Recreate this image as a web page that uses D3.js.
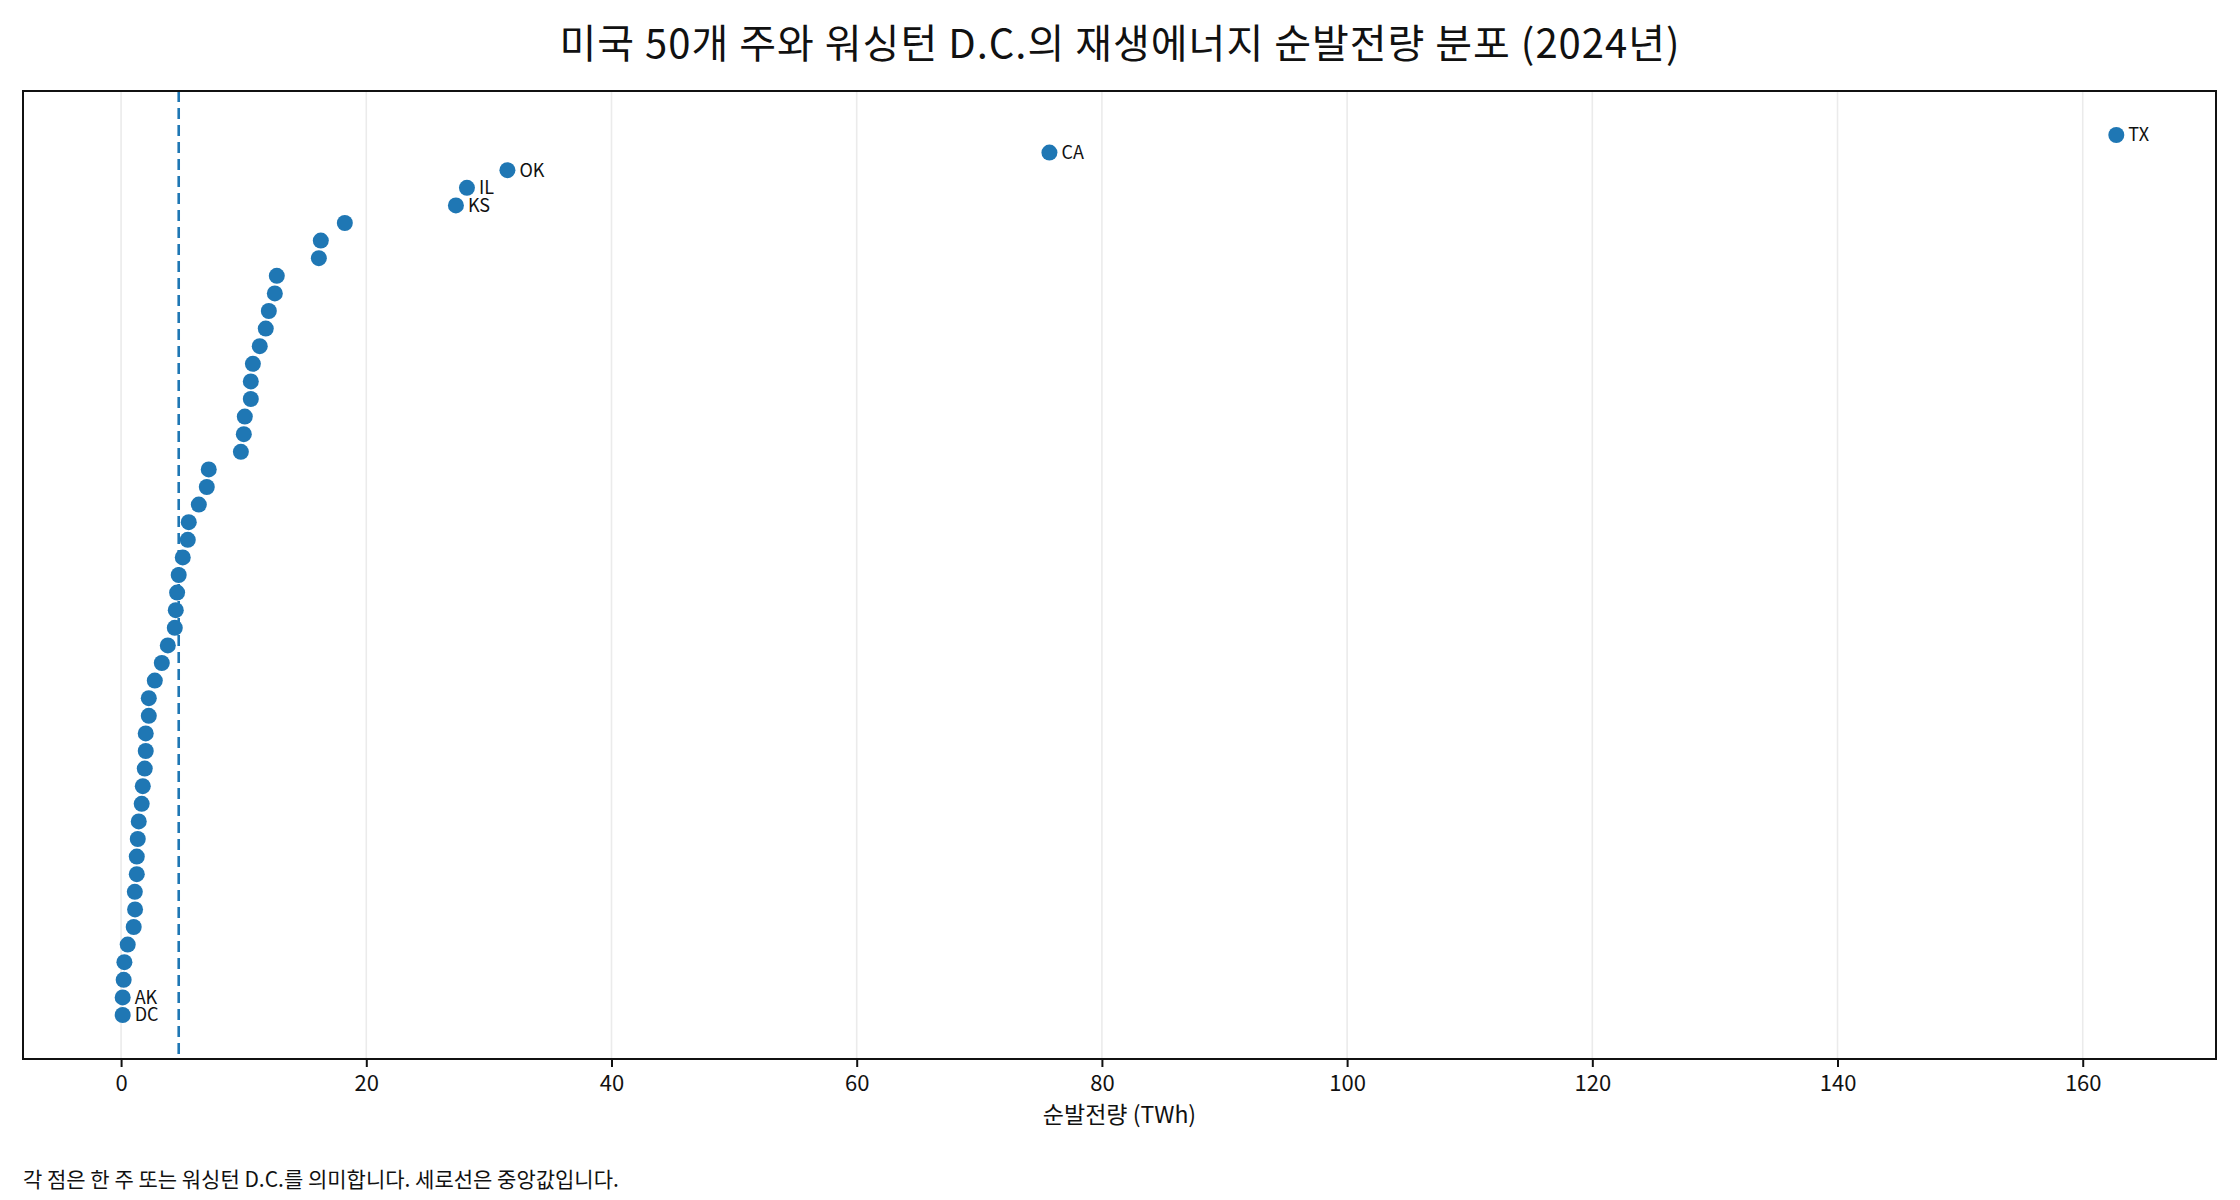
<!DOCTYPE html>
<html>
<head>
<meta charset="utf-8">
<script src="https://cdn.jsdelivr.net/npm/d3@7/dist/d3.min.js"></script>
<style>
  body { margin: 0; background: #fff; }
  text { font-family: "Noto Sans CJK KR", "Noto Sans", sans-serif; }
</style>
</head>
<body>
<script>
// net renewable generation per state, sorted low -> high (TWh)
var values = [0.13, 0.13, 0.21, 0.27, 0.54, 1.03, 1.14, 1.12, 1.28, 1.28,
              1.36, 1.44, 1.68, 1.77, 1.93, 2.01, 2.01, 2.26, 2.26, 2.75,
              3.32, 3.81, 4.38, 4.46, 4.57, 4.70, 5.03, 5.44, 5.52, 6.34,
              6.99, 7.15, 9.77, 10.01, 10.09, 10.58, 10.58, 10.75, 11.31, 11.80,
              12.05, 12.54, 12.70, 16.13, 16.29, 18.25, 27.31, 28.21, 31.51, 75.72,
              162.74];
// only the named ones are labelled in the chart
var states = ["DC", "AK"];
var topStates = ["KS", "IL", "OK", "CA", "TX"];
var xTicks = [0, 20, 40, 60, 80, 100, 120, 140, 160];

var title = "미국 50개 주와 워싱턴 D.C.의 재생에너지 순발전량 분포 (2024년)";
var xTitle = "순발전량 (TWh)";
var note = "각 점은 한 주 또는 워싱턴 D.C.를 의미합니다. 세로선은 중앙값입니다.";

function render(){
  var W = 2240, H = 1200;
  var m = {left: 23, right: 24, top: 91, bottom: 141};
  var blue = "#1f77b4";

  var names = values.map(function(d, i){
    if (i < states.length) return states[i];
    var k = i - (values.length - topStates.length);
    return k >= 0 ? topStates[k] : null;
  });
  var data = values.map(function(v, i){ return {v: v, i: i, name: names[i]}; });
  var median = d3.median(values);

  var svg = d3.select("body").append("svg").attr("width", W).attr("height", H);

  var lo = d3.min(values), hi = d3.max(values), pad = (hi - lo) * 0.05;
  var x = d3.scaleLinear().domain([lo - pad, hi + pad]).range([m.left, W - m.right]);
  var n = values.length;
  var y = d3.scaleLinear().domain([-2.5, n - 1 + 2.5]).range([H - m.bottom, m.top]);

  // grid
  svg.append("g").selectAll("line").data(xTicks).enter().append("line")
    .attr("x1", function(d){ return x(d); }).attr("x2", function(d){ return x(d); })
    .attr("y1", m.top).attr("y2", H - m.bottom)
    .attr("stroke", "#ebebeb").attr("stroke-width", 1.6);

  // median line
  svg.append("line")
    .attr("x1", x(median)).attr("x2", x(median))
    .attr("y1", m.top).attr("y2", H - m.bottom)
    .attr("stroke", blue).attr("stroke-width", 2.6)
    .attr("stroke-dasharray", "11,6");

  svg.selectAll("circle").data(data).enter().append("circle")
    .attr("cx", function(d){ return x(d.v); })
    .attr("cy", function(d){ return y(d.i); })
    .attr("r", 8)
    .attr("fill", blue);

  svg.selectAll("text.lab").data(data.filter(function(d){ return d.name; })).enter()
    .append("text").attr("class", "lab")
    .text(function(d){ return d.name; })
    .attr("x", function(d){ return x(d.v) + 12; })
    .attr("y", function(d){ return y(d.i); })
    .attr("dy", "0.35em")
    .attr("font-size", 18)
    .attr("fill", "#111");

  // frame
  svg.append("rect")
    .attr("x", m.left).attr("y", m.top)
    .attr("width", W - m.left - m.right).attr("height", H - m.top - m.bottom)
    .attr("fill", "none").attr("stroke", "#111").attr("stroke-width", 2);

  var ax = svg.append("g")
    .attr("transform", "translate(0," + (H - m.bottom) + ")")
    .call(d3.axisBottom(x).tickValues(xTicks).tickSize(8).tickPadding(8).tickFormat(d3.format("d")));
  ax.select(".domain").remove();
  ax.selectAll("line").attr("stroke", "#111").attr("stroke-width", 2);
  ax.selectAll("text").attr("font-size", 22).attr("fill", "#111")
    .style("font-family", '"Noto Sans CJK KR", sans-serif');

  svg.append("text").text(xTitle)
    .attr("x", (m.left + W - m.right) / 2).attr("y", 1123)
    .attr("text-anchor", "middle").attr("font-size", 23).attr("fill", "#111");

  svg.append("text").text(title)
    .attr("x", W / 2).attr("y", 58)
    .attr("text-anchor", "middle").attr("font-size", 40)
    .attr("letter-spacing", 1).attr("fill", "#111");

  svg.append("text").text(note)
    .attr("x", 23).attr("y", 1187)
    .attr("font-size", 21).attr("fill", "#111");
}

render();
</script>
</body>
</html>
